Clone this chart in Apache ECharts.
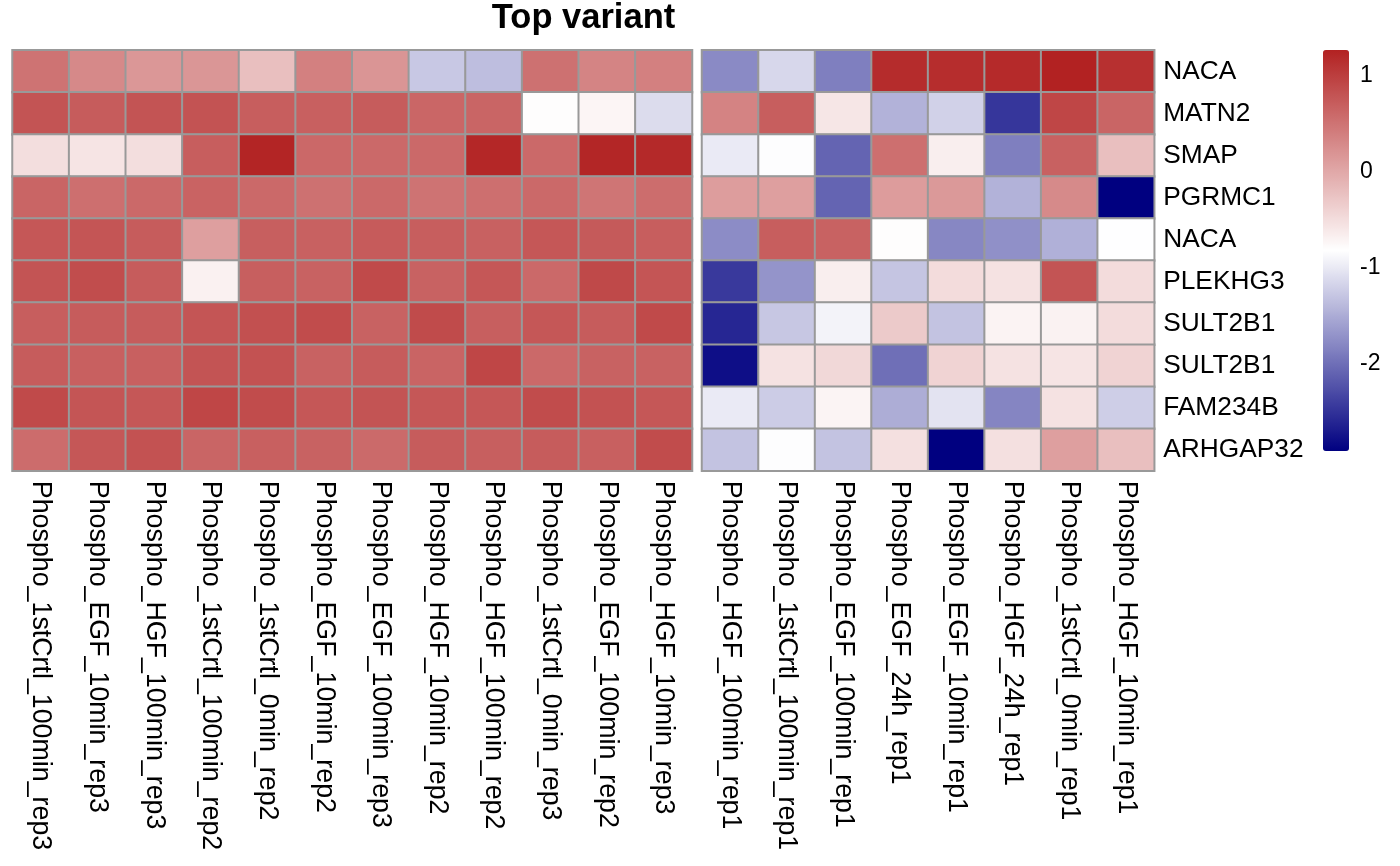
<!DOCTYPE html>
<html>
<head>
<meta charset="utf-8">
<script src="https://cdn.jsdelivr.net/npm/echarts@6/dist/echarts.min.js"></script>
<style>
html,body{margin:0;padding:0;background:#fff;}
#chart{width:1400px;height:866px;}
</style>
</head>
<body>
<div id="chart"></div>
<script>
const titleText = 'Top variant';
const rowLabels = ['NACA','MATN2','SMAP','PGRMC1','NACA','PLEKHG3','SULT2B1','SULT2B1','FAM234B','ARHGAP32'];
const leftCols = ['Phospho_1stCrtl_100min_rep3','Phospho_EGF_10min_rep3','Phospho_HGF_100min_rep3','Phospho_1stCrtl_100min_rep2','Phospho_1stCrtl_0min_rep2','Phospho_EGF_10min_rep2','Phospho_EGF_100min_rep3','Phospho_HGF_10min_rep2','Phospho_HGF_100min_rep2','Phospho_1stCrtl_0min_rep3','Phospho_EGF_100min_rep2','Phospho_HGF_10min_rep3'];
const rightCols = ['Phospho_HGF_100min_rep1','Phospho_1stCrtl_100min_rep1','Phospho_EGF_100min_rep1','Phospho_EGF_24h_rep1','Phospho_EGF_10min_rep1','Phospho_HGF_24h_rep1','Phospho_1stCrtl_0min_rep1','Phospho_HGF_10min_rep1'];

const leftValues = [
  [0.50, 0.29, 0.16, 0.17, -0.22, 0.38, 0.18, -1.27, -1.35, 0.52, 0.34, 0.38],
  [0.79, 0.72, 0.79, 0.80, 0.70, 0.68, 0.72, 0.62, 0.63, -0.80, -0.73, -1.11],
  [-0.51, -0.57, -0.51, 0.70, 1.24, 0.60, 0.59, 0.59, 1.22, 0.59, 1.23, 1.20],
  [0.63, 0.54, 0.59, 0.65, 0.59, 0.52, 0.59, 0.50, 0.54, 0.59, 0.48, 0.56],
  [0.76, 0.78, 0.72, 0.08, 0.69, 0.67, 0.73, 0.70, 0.67, 0.76, 0.74, 0.70],
  [0.79, 0.86, 0.72, -0.69, 0.69, 0.66, 0.89, 0.66, 0.76, 0.59, 0.90, 0.78],
  [0.70, 0.72, 0.72, 0.78, 0.83, 0.87, 0.66, 0.88, 0.69, 0.76, 0.72, 0.89],
  [0.72, 0.68, 0.68, 0.79, 0.81, 0.66, 0.72, 0.64, 0.92, 0.59, 0.66, 0.66],
  [0.89, 0.78, 0.76, 0.92, 0.87, 0.76, 0.79, 0.76, 0.76, 0.87, 0.81, 0.76],
  [0.57, 0.76, 0.81, 0.63, 0.68, 0.66, 0.58, 0.72, 0.69, 0.72, 0.68, 0.87]
];
const rightValues = [
  [-1.78, -1.15, -1.87, 1.17, 1.16, 1.19, 1.26, 1.13],
  [0.35, 0.70, -0.59, -1.45, -1.20, -2.47, 0.92, 0.63],
  [-0.99, -0.84, -2.09, 0.54, -0.66, -1.87, 0.67, -0.22],
  [0.10, 0.08, -2.09, 0.11, 0.14, -1.45, 0.28, -2.908],
  [-1.76, 0.70, 0.66, -0.80, -1.80, -1.73, -1.47, -0.83],
  [-2.44, -1.70, -0.66, -1.30, -0.49, -0.55, 0.79, -0.49],
  [-2.60, -1.28, -0.92, -0.32, -1.31, -0.71, -0.70, -0.49],
  [-2.79, -0.55, -0.45, -2.00, -0.41, -0.55, -0.57, -0.41],
  [-0.99, -1.24, -0.72, -1.49, -1.05, -1.82, -0.55, -1.22],
  [-1.31, -0.84, -1.31, -0.53, -2.908, -0.53, 0.08, -0.22]
];
const scaleMin = -2.908;
const scaleMax = 1.264;
const scaleColors = ['#000080', '#FFFFFF', '#B22222'];

function toCells(mat) {
  const out = [];
  mat.forEach((row, r) => row.forEach((v, c) => out.push([c, r, v])));
  return out;
}

const FONT = "'Liberation Sans', Arial, Helvetica, sans-serif";
const chart = echarts.init(document.getElementById('chart'), null, {renderer: 'canvas'});

const baseCatAxis = {
  type: 'category',
  axisLine: {show: false},
  axisTick: {show: false},
  splitLine: {show: false},
  splitArea: {show: false}
};

const option = {
  backgroundColor: '#ffffff',
  animation: false,
  title: {
    text: titleText,
    left: 583.5,
    top: 1,
    padding: 0,
    textAlign: 'center',
    textStyle: {fontFamily: FONT, fontWeight: 'bold', fontSize: 34.5, color: '#000'}
  },
  grid: [
    {left: 12.5, top: 50.3, width: 679.5, height: 420.5, outerBoundsMode: 'none', containLabel: false},
    {left: 702, top: 50.3, width: 452.2, height: 420.5, outerBoundsMode: 'none', containLabel: false},
    {left: 1323, top: 50, width: 26, height: 401, outerBoundsMode: 'none', containLabel: false}
  ],
  xAxis: [
    Object.assign({}, baseCatAxis, {
      gridIndex: 0, data: leftCols, position: 'bottom',
      axisLabel: {rotate: -90, margin: 10, interval: 0, fontSize: 26.8, fontFamily: FONT, color: '#000'}
    }),
    Object.assign({}, baseCatAxis, {
      gridIndex: 1, data: rightCols, position: 'bottom',
      axisLabel: {rotate: -90, margin: 10, interval: 0, fontSize: 26.8, fontFamily: FONT, color: '#000'}
    }),
    {type: 'category', gridIndex: 2, data: [''], show: false}
  ],
  yAxis: [
    Object.assign({}, baseCatAxis, {
      gridIndex: 0, data: rowLabels, inverse: true, axisLabel: {show: false}
    }),
    Object.assign({}, baseCatAxis, {
      gridIndex: 1, data: rowLabels, inverse: true, position: 'right',
      axisLabel: {show: true, interval: 0, margin: 9, align: 'left', fontSize: 26.3, fontFamily: FONT, color: '#000', padding: [4, 0, 0, 0]}
    }),
    {
      type: 'value', gridIndex: 2, min: scaleMin, max: scaleMax, position: 'right',
      axisLine: {show: false}, axisTick: {show: false}, splitLine: {show: false},
      axisLabel: {
        margin: 11, align: 'left', fontSize: 23, fontFamily: FONT, color: '#000',
        padding: [4, 0, 0, 0],
        showMinLabel: false, showMaxLabel: false,
        formatter: function (v) { return Math.abs(v - Math.round(v)) < 1e-6 ? String(Math.round(v)) : ''; }
      }
    }
  ],
  visualMap: {
    type: 'continuous',
    min: scaleMin,
    max: scaleMax,
    seriesIndex: [0, 1],
    orient: 'vertical',
    left: 1323,
    top: 50,
    padding: 0,
    itemWidth: 26,
    itemHeight: 401,
    calculable: false,
    hoverLink: false,
    text: null,
    inRange: {color: scaleColors}
  },
  series: [
    {
      type: 'heatmap', xAxisIndex: 0, yAxisIndex: 0,
      data: toCells(leftValues),
      itemStyle: {borderColor: '#999999', borderWidth: 2},
      emphasis: {disabled: true},
      label: {show: false}
    },
    {
      type: 'heatmap', xAxisIndex: 1, yAxisIndex: 1,
      data: toCells(rightValues),
      itemStyle: {borderColor: '#999999', borderWidth: 2},
      emphasis: {disabled: true},
      label: {show: false}
    }
  ]
};
chart.setOption(option);
</script>
</body>
</html>
